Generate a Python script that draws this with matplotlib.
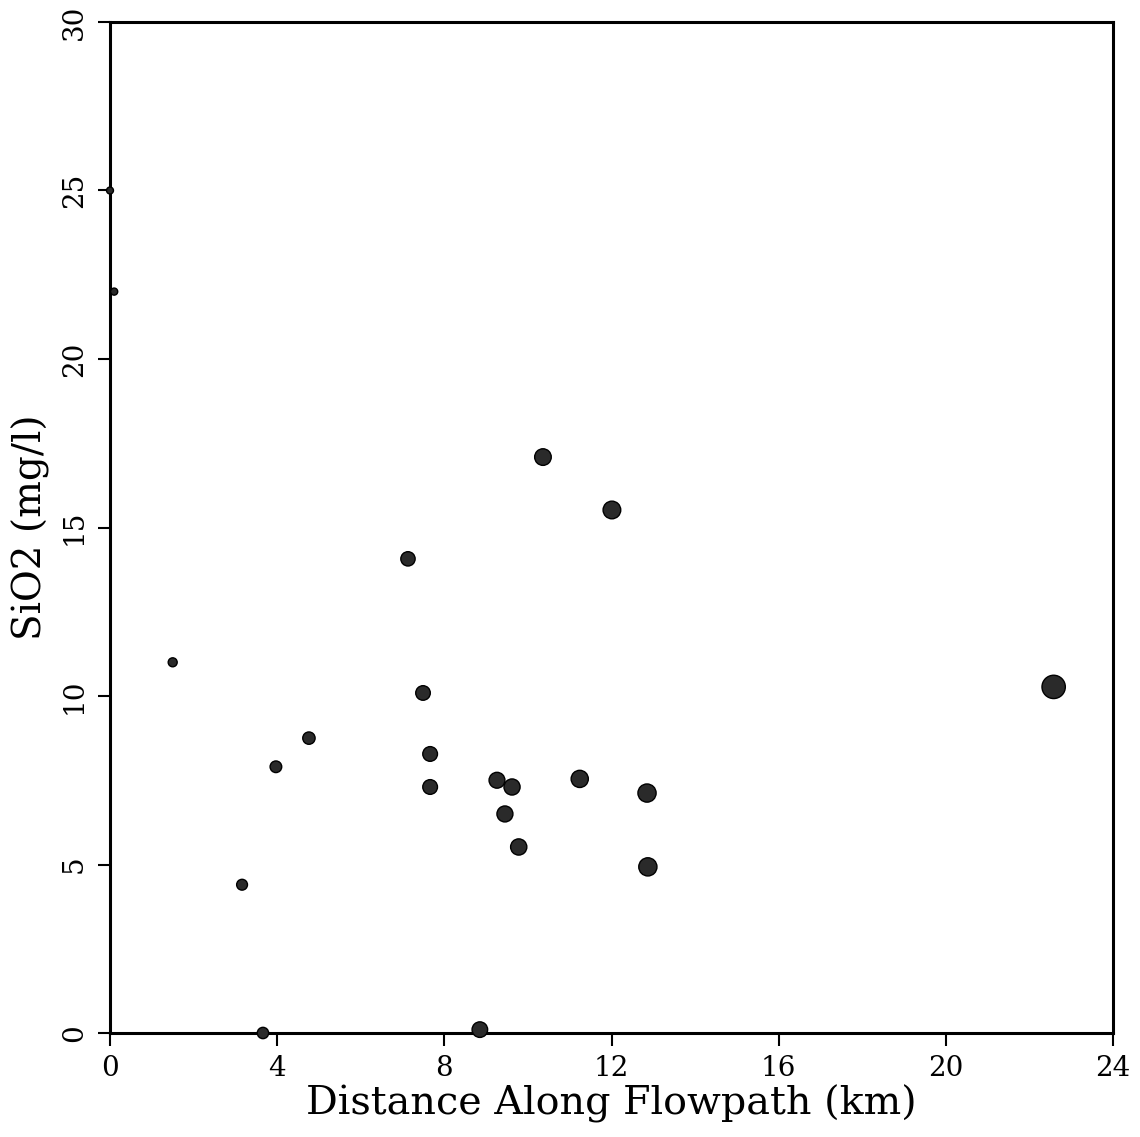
import matplotlib
matplotlib.use("Agg")
import matplotlib.pyplot as plt
import numpy as np

# Data
distance_km = [0.0, 0.1, 1.5, 3.16, 3.66, 3.97, 4.76, 7.13, 7.49, 7.66, 7.66,
               8.85, 9.26, 9.45, 9.62, 9.78, 10.36, 11.24, 12.01, 12.85, 12.87, 22.58]
sio2_mgl = [25.0, 22.0, 11.0, 4.4, 0.0, 7.9, 8.75, 14.07, 10.09, 8.28, 7.3,
            0.1, 7.5, 6.5, 7.3, 5.52, 17.09, 7.54, 15.52, 7.12, 4.93, 10.27]
x_ticks = [0, 4, 8, 12, 16, 20, 24]
y_ticks = [0, 5, 10, 15, 20, 25, 30]

plt.rcParams['font.family'] = ['DejaVu Serif']

W, H = 1140, 1137
fig = plt.figure(figsize=(W / 100, H / 100), dpi=100)
ax = fig.add_axes([110 / W, 1 - 1033 / H, (1113 - 110) / W, (1033 - 22) / H])

x = np.array(distance_km)
# marker area grows with distance (symbol scaling in original)
d_px = np.sqrt(48 + 22 * x)
s = (d_px * 72 / 100) ** 2
ax.scatter(x, sio2_mgl, s=s, c='#2a2a2a', edgecolors='black', linewidths=1.0,
           zorder=5, clip_on=False)

ax.set_xlim(0, 24)
ax.set_ylim(0, 30)
ax.set_xticks(x_ticks)
ax.set_yticks(y_ticks)
ax.set_xticklabels([str(t) for t in x_ticks], fontsize=20)
ax.set_yticklabels([str(t) for t in y_ticks], fontsize=20, rotation=90, va='center')
ax.tick_params(direction='out', length=9, width=1.5, top=False, right=False, pad=7)

for sp in ax.spines.values():
    sp.set_linewidth(2.2)
    sp.set_color('black')

ax.set_xlabel('Distance Along Flowpath (km)', fontsize=28.5, labelpad=2)
ax.set_ylabel('SiO2 (mg/l)', fontsize=28, labelpad=8)

fig.savefig('out.png', dpi=100)
